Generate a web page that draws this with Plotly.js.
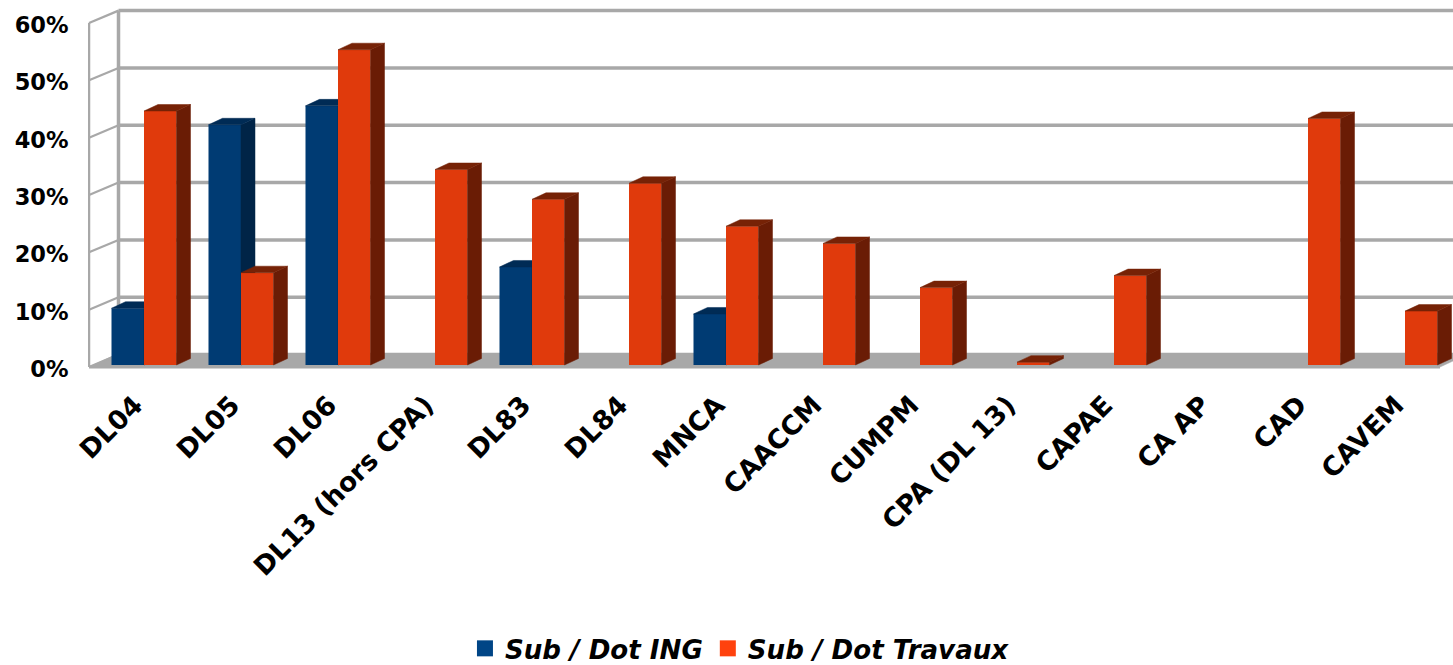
<!DOCTYPE html>
<html>
<head>
<meta charset="utf-8">
<script src="https://cdn.plot.ly/plotly-3.0.1.min.js"></script>
<style>html,body{margin:0;padding:0;background:#fff;overflow:hidden}</style>
</head>
<body>
<div id="chart" style="width:1453px;height:665px"></div>
<script>
const categories = ["DL04","DL05","DL06","DL13 (hors CPA)","DL83","DL84","MNCA","CAACCM","CUMPM","CPA (DL 13)","CAPAE","CA AP","CAD","CAVEM"];
const subDotIng = [9.9,41.9,45.2,null,17.1,null,8.9,null,null,null,null,null,null,null];
const subDotTravaux = [44.3,16.1,55.0,34.1,28.9,31.7,24.2,21.2,13.5,0.5,15.6,null,43.0,9.4];
const yLevels = [0,10,20,30,40,50,60];
const yLabels = ["0%","10%","20%","30%","40%","50%","60%"];

// scales of the drawing (pixels per data unit)
const W = 1453, H = 665;
const pxPerCat = 97, pxPerPct = 5.733;
const x0px = 144, y0px = 367;
const left = 88, bottom = 373;
const X = p => (p - x0px) / pxPerCat;   // horizontal pixel offset -> axis value
const D = p => p / pxPerCat;
const V = p => p / pxPerPct;

const barW = D(32.5), bdx = D(14), bdy = V(6.5), baseV = V(2);
const wallDx = D(29.5), wallDy = V(12.4), floorDy = V(13.5);
const wallX = X(89), rightX = X(1440);
const grey = "#a8a8a8";

function line(xs, ys, width, extra) {
  return Object.assign({type:"scatter",mode:"lines",x:xs,y:ys,hoverinfo:"skip",showlegend:false,
    line:{color:grey,width:width,simplify:false}}, extra||{});
}
function poly(xs, ys, color, ax) {
  return {type:"scatter",mode:"lines",x:xs,y:ys,fill:"toself",fillcolor:color,hoverinfo:"skip",showlegend:false,
    line:{color:color,width:0.5},xaxis:"x"+ax,yaxis:"y"+ax};
}
function series(vals, name, off, face, side, top, ax) {
  const out = [{type:"bar",name:name,x:categories.map((c,i)=>i),y:vals,base:baseV,width:barW,offset:off,
    marker:{color:face,line:{width:0}},showlegend:false,xaxis:"x"+ax,yaxis:"y"+ax,hoverinfo:"skip"}];
  vals.forEach((v,i)=>{
    if (v===null) return;
    const l = i+off, r = l+barW, t = v+baseV;
    out.push(poly([r,r+bdx,r+bdx,r,r],[baseV,baseV+bdy,t+bdy,t,baseV],side,ax));
    out.push(poly([l,l+bdx,r+bdx,r,l],[t,t+bdy,t+bdy,t,t],top,ax));
  });
  return out;
}

const traces = [];
// floor
traces.push({type:"scatter",mode:"lines",x:[wallX,wallX+wallDx,rightX+wallDx,rightX,wallX],y:[0,floorDy,floorDy,0,0],
  fill:"toself",fillcolor:grey,line:{color:grey,width:0.5},hoverinfo:"skip",showlegend:false});
// back-wall grid lines
const backX=[],backY=[],diagX=[],diagY=[];
yLevels.forEach(v=>{
  backX.push(wallX+wallDx,X(1470),null); backY.push(v+wallDy,v+wallDy,null);
  diagX.push(wallX,wallX+wallDx,null);   diagY.push(v,v+wallDy,null);
});
traces.push(line(backX,backY,3.5));
traces.push(line(diagX,diagY,2.2));
traces.push(line([wallX+wallDx,wallX+wallDx],[wallDy,60+wallDy],3.5));
traces.push(line([wallX,wallX],[0,60],2.5));
traces.push(line([wallX,rightX],[0,0],3));
// legend swatches
traces.push({type:"scatter",mode:"markers",name:"Sub / Dot ING",x:[-5],y:[-5],marker:{symbol:"square",size:16,color:"#004586"},hoverinfo:"skip"});
traces.push({type:"scatter",mode:"markers",name:"Sub / Dot Travaux",x:[-5],y:[-5],marker:{symbol:"square",size:16,color:"#ff420e"},hoverinfo:"skip"});
// bars
traces.push(...series(subDotIng,"Sub / Dot ING",-barW,"#003b73","#002447","#002b55",2));
traces.push(...series(subDotTravaux,"Sub / Dot Travaux",0,"#e03a0c","#6a1c05","#762206",3));

const xRange = [X(left), X(W)];
const yRange = [(y0px-bottom)/pxPerPct, y0px/pxPerPct];
const hidden = o => Object.assign({range:xRange,visible:false,fixedrange:true},o);
const layout = {
  width:W,height:H,paper_bgcolor:"#fff",plot_bgcolor:"#fff",
  font:{family:"DejaVu Sans",color:"#000"},
  margin:{l:left,r:0,t:0,b:H-bottom,pad:0,autoexpand:false},
  xaxis:{range:xRange,tickmode:"array",tickvals:categories.map((c,i)=>i),ticktext:categories,tickangle:-45,
    tickfont:{size:26.5,weight:"bold",family:"DejaVu Sans"},showgrid:false,zeroline:false,showline:false,
    ticks:"outside",ticklen:5,tickcolor:"rgba(0,0,0,0)",automargin:false,fixedrange:true,ticklabelshift:-9},
  yaxis:{range:yRange,tickmode:"array",tickvals:yLevels,ticktext:yLabels,
    tickfont:{size:22.5,weight:"bold",family:"DejaVu Sans"},showgrid:false,zeroline:false,showline:false,
    ticks:"outside",ticklen:14,tickcolor:"rgba(0,0,0,0)",automargin:false,fixedrange:true,ticklabelshift:2},
  xaxis2:hidden({overlaying:"x"}),
  yaxis2:{range:yRange,visible:false,overlaying:"y",fixedrange:true},
  xaxis3:hidden({overlaying:"x"}),
  yaxis3:{range:yRange,visible:false,overlaying:"y",fixedrange:true},
  legend:{orientation:"h",x:0.32,xref:"container",xanchor:"left",y:0.025,yref:"container",yanchor:"middle",
    font:{size:26.1,style:"italic",weight:"bold",family:"DejaVu Sans"},bgcolor:"rgba(0,0,0,0)",borderwidth:0},
  showlegend:true
};
Plotly.newPlot("chart",traces,layout,{staticPlot:true,displayModeBar:false});
</script>
</body>
</html>
